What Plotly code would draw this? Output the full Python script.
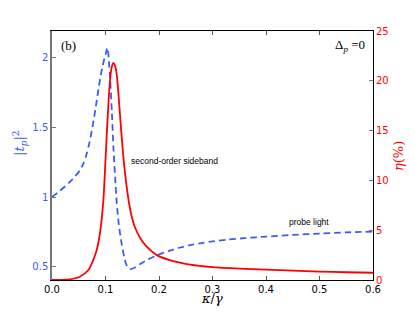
import plotly.graph_objects as go

# |t_p|^2 (probe light transmission), left axis
kappa_probe = [0, 0.015, 0.034, 0.052, 0.058, 0.064, 0.070, 0.076, 0.082, 0.088, 0.094,
               0.1, 0.1035, 0.1084, 0.112, 0.115, 0.118, 0.121, 0.125, 0.130, 0.135,
               0.1396, 0.147, 0.155, 0.165, 0.18, 0.198, 0.22, 0.24, 0.26, 0.28, 0.30,
               0.33, 0.36, 0.40, 0.45, 0.5, 0.55, 0.6]
tp2 = [1.0, 1.045, 1.11, 1.19, 1.235, 1.30, 1.39, 1.51, 1.65, 1.80, 1.93,
       2.02, 2.07, 1.86, 1.60, 1.34, 1.14, 0.96, 0.80, 0.67, 0.57,
       0.51, 0.483, 0.495, 0.52, 0.553, 0.585, 0.615, 0.638, 0.656, 0.670, 0.682,
       0.695, 0.705, 0.716, 0.728, 0.738, 0.746, 0.752]

# eta (%) second-order sideband efficiency, right axis
kappa_sb = [0, 0.02, 0.034, 0.052, 0.068, 0.077, 0.0835, 0.0897, 0.096, 0.1004, 0.1034,
            0.108, 0.111, 0.1146, 0.118, 0.121, 0.125, 0.129, 0.133, 0.137, 0.142,
            0.148, 0.155, 0.165, 0.177, 0.196, 0.22, 0.258, 0.3, 0.35, 0.4, 0.45,
            0.5, 0.55, 0.6]
eta = [0, 0.02, 0.07, 0.33, 1.0, 2.0, 3.0, 4.7, 8.0, 12.5, 15.7,
       19.75, 21.2, 21.8, 21.5, 20.6, 18.1, 15.2, 12.6, 10.5, 8.4,
       6.6, 5.3, 4.2, 3.35, 2.5, 2.0, 1.55, 1.3, 1.15, 1.05, 0.95,
       0.85, 0.78, 0.73]

x_ticks = [0.0, 0.1, 0.2, 0.3, 0.4, 0.5, 0.6]
x_ticklabels = ["0.0", "0.1", "0.2", "0.3", "0.4", "0.5", "0.6"]
yl_ticks = [0.5, 1, 1.5, 2]
yl_ticklabels = ["0.5", "1", "1.5", "2"]
yr_ticks = [0, 5, 10, 15, 20, 25]

BLUE = "#3a5cf5"
RED = "#ff0000"

fig = go.Figure()
fig.add_trace(go.Scatter(x=kappa_probe, y=tp2, mode="lines", yaxis="y",
                         line=dict(color=BLUE, width=1.8, dash="6.5px,4px", shape="spline", smoothing=0.8),
                         showlegend=False))
fig.add_trace(go.Scatter(x=kappa_sb, y=eta, mode="lines", yaxis="y2",
                         line=dict(color=RED, width=1.8, shape="spline", smoothing=0.8),
                         showlegend=False))

tick_font = dict(family="DejaVu Sans", size=10)

# plot area on the page spans x 52..373, y 31..280 (page has an 8px body margin)
def px(xp):
    return (xp - 52) / 321.0

def py(yp):
    return (280 - yp) / 249.0

fig.update_layout(
    width=415, height=312,
    margin=dict(l=44, r=50, t=23, b=40),
    paper_bgcolor="white", plot_bgcolor="white",
    xaxis=dict(range=[0, 0.6], tickvals=x_ticks, ticktext=x_ticklabels,
               ticks="inside", ticklen=4, tickcolor="#555", showgrid=False, zeroline=False,
               showline=True, linecolor="black", linewidth=1, mirror="ticks",
               tickfont=dict(color="black", **tick_font)),
    yaxis=dict(range=[0.405, 2.19], tickvals=yl_ticks, ticktext=yl_ticklabels,
               ticks="inside", ticklen=4, tickcolor="#777", showgrid=False, zeroline=False,
               showline=True, linecolor="#777", linewidth=1.5,
               tickfont=dict(color=BLUE, **tick_font)),
    yaxis2=dict(range=[0, 25], tickvals=yr_ticks, overlaying="y", side="right",
                ticks="inside", ticklen=4, tickcolor="#777", showgrid=False, zeroline=False,
                showline=True, linecolor="black", linewidth=1,
                tickfont=dict(color=RED, **tick_font)),
)

annots = [
    dict(text="<i>κ</i>/<i>γ</i>", x=px(212), y=py(298), font=dict(family="DejaVu Serif", size=13, color="black")),
    dict(text="|<i>t</i><sub><i>p</i></sub>|<sup>2</sup>", x=px(20), y=py(143), textangle=-90,
         font=dict(family="DejaVu Serif", size=13, color=BLUE)),
    dict(text="<i>η</i>(%)", x=px(398), y=py(156), textangle=-90,
         font=dict(family="DejaVu Serif", size=13, color=RED)),
    dict(text="(b)", x=px(59), y=py(45), xanchor="left",
         font=dict(family="Liberation Serif", size=13, color="black")),
    dict(text="Δ<sub><i>p</i></sub> =0", x=px(367), y=py(46), xanchor="right",
         font=dict(family="Liberation Serif", size=13, color="black")),
    dict(text="second-order sideband", x=px(129), y=py(161), xanchor="left",
         font=dict(family="Liberation Sans", size=8.5, color="black")),
    dict(text="probe light", x=px(287), y=py(222), xanchor="left",
         font=dict(family="Liberation Sans", size=8.5, color="black")),
]
for a in annots:
    a.setdefault("xanchor", "center")
    fig.add_annotation(xref="paper", yref="paper", showarrow=False, yanchor="middle", **a)

fig.write_html("out.html")
